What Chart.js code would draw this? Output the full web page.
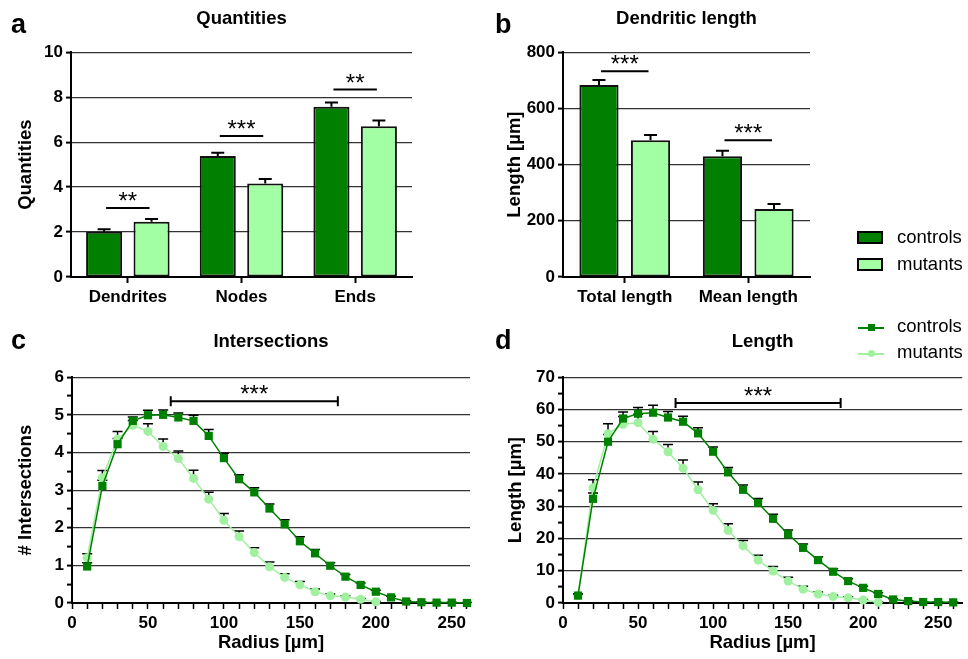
<!DOCTYPE html>
<html>
<head>
<meta charset="utf-8">
<script src="https://cdn.jsdelivr.net/npm/chart.js@4.4.1/dist/chart.umd.min.js"></script>
<style>
  body { margin: 0; background: #fff; }
  #fig { position: relative; width: 968px; height: 659px; overflow: hidden; font-family: "Liberation Sans", Arial, sans-serif; }
  canvas { position: absolute; }
  .letter { position: absolute; font-weight: bold; font-size: 27px; line-height: 27px; }
  .lgt { position: absolute; font-size: 18.5px; line-height: 18px; color: #000; }
  .box { position: absolute; width: 22px; height: 9px; border: 2px solid #000; }
  .ln { position: absolute; width: 26px; height: 0; border-top: 2px solid; }
  .mk { position: absolute; width: 7px; height: 7px; }
</style>
</head>
<body>
<div id="fig">
  <canvas id="chartA" width="420" height="310" style="left:0;top:0"></canvas>
  <canvas id="chartB" width="340" height="310" style="left:480px;top:0"></canvas>
  <canvas id="chartC" width="480" height="339" style="left:0;top:320px"></canvas>
  <canvas id="chartD" width="488" height="339" style="left:480px;top:320px"></canvas>

  <div class="letter" style="left:11px;top:11px">a</div>
  <div class="letter" style="left:495px;top:11px">b</div>
  <div class="letter" style="left:11px;top:327px">c</div>
  <div class="letter" style="left:495px;top:327px">d</div>

  <div class="box" style="left:857px;top:231px;background:#007f00"></div>
  <div class="lgt" style="left:897px;top:228px">controls</div>
  <div class="box" style="left:857px;top:258px;background:#a3ffa3"></div>
  <div class="lgt" style="left:897px;top:255px">mutants</div>

  <div class="ln" style="left:858px;top:327px;border-color:#008000"></div>
  <div class="mk" style="left:868px;top:324px;background:#008000"></div>
  <div class="lgt" style="left:897px;top:317px">controls</div>
  <div class="ln" style="left:858px;top:353px;border-color:#a0f0a0"></div>
  <div class="mk" style="left:868px;top:350px;background:#a0f0a0;border-radius:50%"></div>
  <div class="lgt" style="left:897px;top:343px">mutants</div>
</div>
<script>
// panel a
var quantCats = ["Dendrites", "Nodes", "Ends"];
var quantControls = [2.01, 5.38, 7.57];
var quantControlsErr = [0.11, 0.15, 0.19];
var quantMutants = [2.46, 4.16, 6.71];
var quantMutantsErr = [0.12, 0.2, 0.25];
var quantStars = ["**", "***", "**"];
var quantStarY = [3.07, 6.27, 8.34];
var quantTicks = [0, 2, 4, 6, 8, 10];

// panel b
var lenCats = ["Total length", "Mean length"];
var lenControls = [683, 430];
var lenControlsErr = [18, 19];
var lenMutants = [487, 242];
var lenMutantsErr = [18, 18];
var lenStars = ["***", "***"];
var lenStarY = [732, 487];
var lenTicks = [0, 200, 400, 600, 800];

// panels c and d (Sholl analysis)
var radius = [10, 20, 30, 40, 50, 60, 70, 80, 90, 100, 110, 120, 130, 140, 150, 160, 170, 180, 190, 200, 210, 220, 230, 240, 250, 260];
var interControls = [0.97, 3.11, 4.22, 4.84, 4.99, 5.0, 4.93, 4.84, 4.44, 3.85, 3.29, 2.94, 2.51, 2.09, 1.64, 1.32, 0.99, 0.70, 0.48, 0.30, 0.15, 0.04, 0.02, 0.01, 0.01, 0.0];
var interControlsErr = [0.1, 0.15, 0.15, 0.1, 0.13, 0.13, 0.12, 0.15, 0.17, 0.13, 0.12, 0.12, 0.12, 0.12, 0.12, 0.1, 0.08, 0.06, 0.05, 0.04, 0.03, 0.02, 0.01, 0.01, 0.01, 0.01];
var interMutants = [1.2, 3.33, 4.35, 4.72, 4.56, 4.16, 3.84, 3.31, 2.76, 2.2, 1.76, 1.34, 0.96, 0.68, 0.48, 0.30, 0.19, 0.16, 0.10, 0.03, null, null, null, null, null, null];
var interMutantsErr = [0.11, 0.19, 0.21, 0.13, 0.2, 0.2, 0.2, 0.22, 0.18, 0.18, 0.15, 0.13, 0.13, 0.1, 0.09, 0.07, 0.05, 0.03, 0.02, 0.01, null, null, null, null, null, null];
var lengthControls = [2.3, 32.3, 50.0, 57.2, 58.7, 59.0, 57.5, 56.2, 52.6, 46.9, 40.5, 35.1, 31.0, 26.1, 21.3, 17.1, 13.3, 9.7, 6.8, 4.7, 2.8, 1.1, 0.6, 0.3, 0.3, 0.2];
var lengthControlsErr = [0.5, 1.8, 2.2, 2.0, 1.9, 2.3, 1.9, 1.7, 1.7, 1.5, 1.5, 1.5, 1.4, 1.4, 1.3, 1.2, 1.0, 0.9, 0.7, 0.5, 0.4, 0.2, 0.1, 0.1, 0.1, 0.1];
var lengthMutants = [2.3, 35.7, 52.5, 55.4, 55.9, 50.8, 46.9, 41.8, 35.1, 28.7, 22.5, 17.7, 13.3, 9.9, 6.8, 4.3, 2.8, 2.0, 1.6, 0.9, 0.2, null, null, null, null, null];
var lengthMutantsErr = [0.5, 2.5, 3.1, 2.4, 2.6, 2.4, 2.2, 2.5, 2.4, 2.1, 2.1, 1.7, 1.5, 1.4, 1.2, 0.9, 0.6, 0.4, 0.3, 0.2, 0.1, null, null, null, null, null];
var interSig = {from: 65, to: 175, y: 5.36, text: "***"};
var lengthSig = {from: 75, to: 185, y: 62, text: "***"};

var FONT = "'Liberation Sans', Arial, sans-serif";
var tickFont = {family: FONT, size: 17, weight: 'bold'};
var titleFont = {family: FONT, size: 18.5, weight: 'bold'};
var ctrlBar = "#007f00", mutBar = "#a3ffa3";
var ctrlLine = "#008000", mutLine = "#a0f0a0";

Chart.defaults.animation = false;
Chart.defaults.font.family = FONT;

// error bars: stem + cap above each value
function errorBars(width, cap) {
  return {
    id: 'errorBars',
    beforeDatasetsDraw(chart) {
      var ctx = chart.ctx;
      chart.data.datasets.forEach(function (ds, di) {
        var meta = chart.getDatasetMeta(di);
        var ys = chart.scales[meta.yAxisID];
        ctx.save();
        ctx.strokeStyle = '#000';
        ctx.lineWidth = width;
        meta.data.forEach(function (el, i) {
          var v = ds.values[i], e = ds.errors[i];
          if (v == null || e == null) return;
          var y0 = ys.getPixelForValue(v), y1 = ys.getPixelForValue(v + e);
          ctx.beginPath();
          ctx.moveTo(el.x, y0); ctx.lineTo(el.x, y1);
          ctx.moveTo(el.x - cap, y1); ctx.lineTo(el.x + cap, y1);
          ctx.stroke();
        });
        ctx.restore();
      });
    }
  };
}

function drawSig(ctx, x0, x1, y, text, ends) {
  ctx.save();
  ctx.strokeStyle = '#000';
  ctx.lineWidth = 2;
  ctx.beginPath();
  ctx.moveTo(x0, y); ctx.lineTo(x1, y);
  if (ends) {
    ctx.moveTo(x0, y - 5); ctx.lineTo(x0, y + 5);
    ctx.moveTo(x1, y - 5); ctx.lineTo(x1, y + 5);
  }
  ctx.stroke();
  ctx.fillStyle = '#000';
  ctx.font = "24px " + FONT;
  ctx.textAlign = 'center';
  ctx.textBaseline = 'alphabetic';
  ctx.fillText(text, (x0 + x1) / 2, y + 1);
  ctx.restore();
}

function barSig(stars, starY) {
  return {
    id: 'barSig',
    afterDraw(chart) {
      var a = chart.getDatasetMeta(0).data, b = chart.getDatasetMeta(1).data;
      stars.forEach(function (s, i) {
        drawSig(chart.ctx, a[i].x + 2, b[i].x - 2, chart.scales.y.getPixelForValue(starY[i]), s, false);
      });
    }
  };
}

function lineSig(sig) {
  return {
    id: 'lineSig',
    afterDraw(chart) {
      var xs = chart.scales.x, ys = chart.scales.y;
      drawSig(chart.ctx, xs.getPixelForValue(sig.from), xs.getPixelForValue(sig.to), ys.getPixelForValue(sig.y), sig.text, true);
    }
  };
}

function yAxis(ticks, step, title, width, titlePad) {
  return {
    min: ticks[0], max: ticks[ticks.length - 1],
    ticks: {
      stepSize: step, color: '#000', font: tickFont, padding: 3, autoSkip: false,
      callback: function (v) { return ticks.indexOf(v) >= 0 ? v : ''; }
    },
    grid: {
      color: function (c) { return (c.tick && ticks.indexOf(c.tick.value) > 0) ? '#333' : 'rgba(0,0,0,0)'; },
      lineWidth: 1.2, tickColor: '#000', tickLength: 5, tickWidth: 2
    },
    border: {color: '#000', width: 2},
    title: {display: true, text: title, font: titleFont, color: '#000', padding: {top: titlePad, bottom: 0}},
    afterFit: function (s) { s.width = width; }
  };
}

function barChart(id, cats, ctrl, ctrlErr, mut, mutErr, ticks, yTitle, yWidth, titlePad, title, stars, starY) {
  return new Chart(document.getElementById(id), {
    type: 'bar',
    data: {
      labels: cats,
      datasets: [
        {label: 'controls', data: ctrl, values: ctrl, errors: ctrlErr, backgroundColor: ctrlBar, borderColor: '#111', borderWidth: 2, borderSkipped: false},
        {label: 'mutants', data: mut, values: mut, errors: mutErr, backgroundColor: mutBar, borderColor: '#111', borderWidth: 2, borderSkipped: false}
      ]
    },
    options: {
      responsive: false,
      categoryPercentage: 0.835,
      barPercentage: 0.76,
      layout: {padding: {left: 0, right: id === 'chartA' ? 8 : 10, top: 0, bottom: 0}},
      plugins: {
        legend: {display: false},
        tooltip: {enabled: false},
        title: {display: true, text: title, font: titleFont, color: '#000', fullSize: false, padding: {top: 8, bottom: 22}}
      },
      scales: {
        x: {
          ticks: {color: '#000', font: tickFont, padding: 4, maxRotation: 0},
          grid: {drawOnChartArea: false, offset: false, tickColor: '#000', tickLength: 6, tickWidth: 2},
          border: {color: '#000', width: 2},
          afterFit: function (s) { s.height = 33; }
        },
        y: yAxis(ticks, ticks[1] - ticks[0], yTitle, yWidth, titlePad)
      }
    },
    plugins: [errorBars(2, 6.5), barSig(stars, starY)]
  });
}

function lineChart(id, ctrl, ctrlErr, mut, mutErr, ticks, minorStep, xMax, yTitle, yWidth, titlePad, title, sig) {
  function pts(vals) { return radius.map(function (r, i) { return {x: r, y: vals[i]}; }); }
  return new Chart(document.getElementById(id), {
    type: 'line',
    data: {
      datasets: [
        {label: 'controls', data: pts(ctrl), values: ctrl, errors: ctrlErr, borderColor: ctrlLine, backgroundColor: ctrlLine,
         borderWidth: 1.5, pointStyle: 'rect', pointRadius: 5.8, pointBorderWidth: 0, clip: false},
        {label: 'mutants', data: pts(mut), values: mut, errors: mutErr, borderColor: mutLine, backgroundColor: mutLine,
         borderWidth: 1.5, pointStyle: 'circle', pointRadius: 4.5, pointBorderWidth: 0, clip: false}
      ]
    },
    options: {
      responsive: false,
      layout: {padding: {left: 0, right: id === 'chartC' ? 10 : 0, top: 0, bottom: 0}},
      plugins: {
        legend: {display: false},
        tooltip: {enabled: false},
        title: {display: true, text: title, font: titleFont, color: '#000', fullSize: false, padding: {top: 11, bottom: 24}}
      },
      scales: {
        x: {
          type: 'linear', min: 0, max: xMax,
          ticks: {stepSize: 10, includeBounds: false, autoSkip: false, maxRotation: 0, color: '#000', font: tickFont, padding: 4,
                  callback: function (v) { return v % 50 === 0 ? v : ''; }},
          grid: {drawOnChartArea: false, tickColor: '#000', tickLength: 6, tickWidth: 1.5},
          border: {color: '#000', width: 2},
          title: {display: true, text: 'Radius [µm]', font: titleFont, color: '#000', padding: {top: 0, bottom: 5}},
          afterFit: function (s) { s.height = 56; }
        },
        y: yAxis(ticks, minorStep, yTitle, yWidth, titlePad)
      }
    },
    plugins: [errorBars(1.5, 5), lineSig(sig)]
  });
}

barChart('chartA', quantCats, quantControls, quantControlsErr, quantMutants, quantMutantsErr, quantTicks, 'Quantities', 71, 15, 'Quantities', quantStars, quantStarY);
barChart('chartB', lenCats, lenControls, lenControlsErr, lenMutants, lenMutantsErr, lenTicks, 'Length [µm]', 83, 24, 'Dendritic length', lenStars, lenStarY);
lineChart('chartC', interControls, interControlsErr, interMutants, interMutantsErr, [0, 1, 2, 3, 4, 5, 6], 0.5, 262, '# Intersections', 72, 15, 'Intersections', interSig);
lineChart('chartD', lengthControls, lengthControlsErr, lengthMutants, lengthMutantsErr, [0, 10, 20, 30, 40, 50, 60, 70], 5, 266, 'Length [µm]', 83, 25, 'Length', lengthSig);
</script>
</body>
</html>
